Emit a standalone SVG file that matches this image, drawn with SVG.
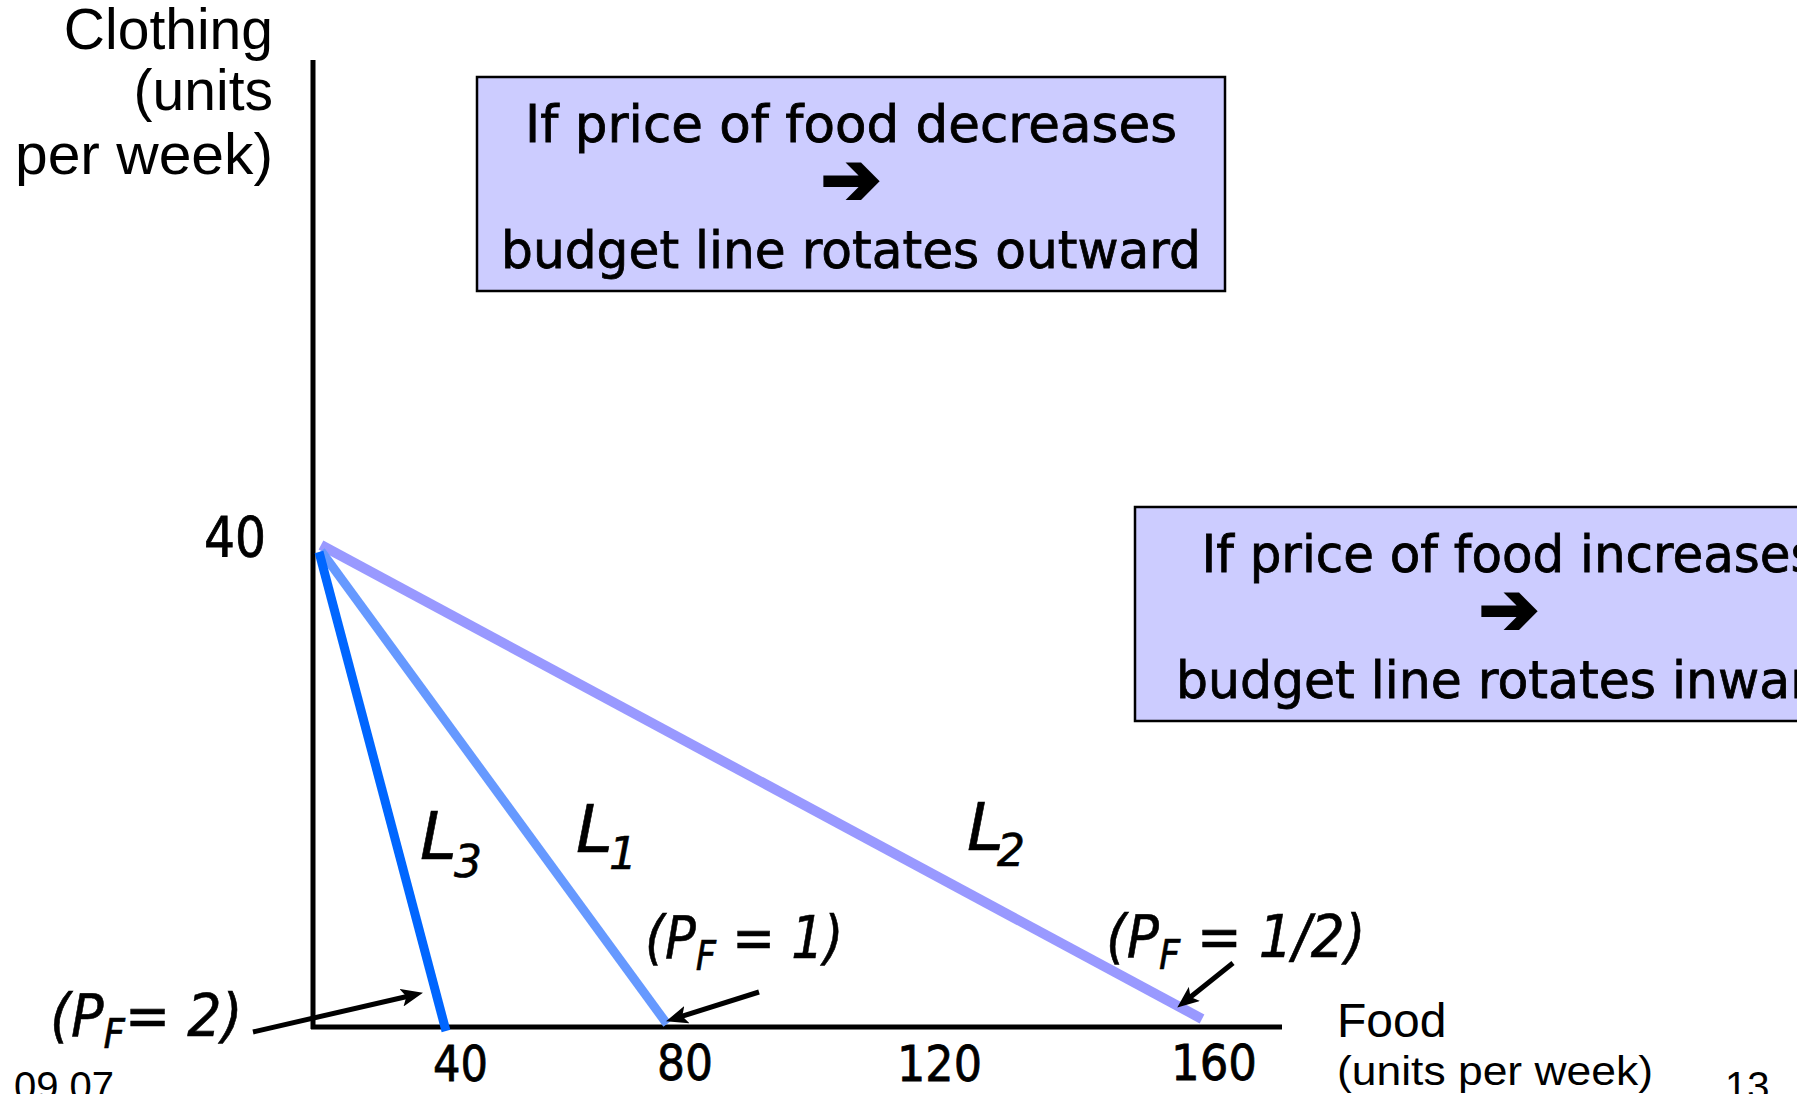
<svg xmlns="http://www.w3.org/2000/svg" width="1797" height="1094" viewBox="0 0 1797 1094">
<style>
.ax{font-family:"Liberation Sans",Arial,sans-serif;fill:#000}
.bx{font-family:"DejaVu Sans","Liberation Sans",sans-serif;fill:#000;stroke:#000;stroke-width:0.8;text-anchor:middle}
.arr{font-family:"DejaVu Sans","Liberation Sans",sans-serif;fill:#000;stroke:#000;stroke-width:3;text-anchor:middle}
.num{font-family:"DejaVu Sans","Liberation Sans",sans-serif;fill:#000;stroke:#000;stroke-width:0.8}
.it{font-family:"DejaVu Sans","Liberation Sans",sans-serif;font-style:italic;fill:#000;stroke:#000;stroke-width:0.6}
.box{fill:#CCCCFF;stroke:#000;stroke-width:2.5}
.axis{stroke:#000;stroke-width:5;fill:none}
.ptr{stroke:#000;stroke-width:5;fill:none;marker-end:url(#ah)}
</style>
<defs>
<marker id="ah" viewBox="0 0 22 18" refX="9" refY="9" markerWidth="22" markerHeight="18" markerUnits="userSpaceOnUse" orient="auto">
<path d="M0,0 L22,9 L0,18 L5,9 z" fill="#000"/>
</marker>
</defs>
<rect width="1797" height="1094" fill="#fff"/>

<g id="axes">
<line class="axis" x1="313" y1="60" x2="313" y2="1029"/>
<line class="axis" x1="311" y1="1027" x2="1282" y2="1027"/>
</g>

<g id="y-label">
<text class="ax" x="273" y="49" font-size="57" text-anchor="end">Clothing</text>
<text class="ax" x="273" y="110" font-size="57" text-anchor="end">(units</text>
<text class="ax" x="273" y="174" font-size="57" text-anchor="end" textLength="258" lengthAdjust="spacingAndGlyphs">per week)</text>
</g>

<g id="x-label">
<text class="ax" x="1337" y="1037" font-size="48">Food</text>
<text class="ax" x="1337" y="1085" font-size="40" textLength="316" lengthAdjust="spacingAndGlyphs">(units per week)</text>
</g>

<g id="ticks">
<text class="num" x="204" y="556" font-size="55" textLength="62" lengthAdjust="spacingAndGlyphs">40</text>
<text class="num" x="433" y="1081" font-size="50" textLength="55" lengthAdjust="spacingAndGlyphs">40</text>
<text class="num" x="657" y="1080" font-size="50" textLength="56" lengthAdjust="spacingAndGlyphs">80</text>
<text class="num" x="897" y="1081" font-size="50" textLength="85" lengthAdjust="spacingAndGlyphs">120</text>
<text class="num" x="1171" y="1080" font-size="50" textLength="86" lengthAdjust="spacingAndGlyphs">160</text>
</g>

<g id="box-decrease">
<rect class="box" x="477" y="77" width="748" height="214"/>
<text class="bx" x="851" y="142" font-size="52" textLength="652" lengthAdjust="spacingAndGlyphs">If price of food decreases</text>
<text class="arr" x="851" y="204" font-size="72">➔</text>
<text class="bx" x="851" y="268" font-size="52" textLength="700" lengthAdjust="spacingAndGlyphs">budget line rotates outward</text>
</g>

<g id="box-increase">
<rect class="box" x="1135" y="507" width="748" height="214"/>
<text class="bx" x="1509" y="572" font-size="52" textLength="615" lengthAdjust="spacingAndGlyphs">If price of food increases</text>
<text class="arr" x="1509" y="634" font-size="72">➔</text>
<text class="bx" x="1509" y="698" font-size="52" textLength="666" lengthAdjust="spacingAndGlyphs">budget line rotates inward</text>
</g>

<g id="budget-lines">
<line id="L2" x1="321" y1="545" x2="1202" y2="1019" stroke="#9999FF" stroke-width="10"/>
<line id="L1" x1="321" y1="551" x2="667" y2="1024" stroke="#6699FF" stroke-width="9"/>
<line id="L3" x1="319" y1="552" x2="446" y2="1031" stroke="#0066FF" stroke-width="9"/>
</g>

<g id="line-labels">
<text class="it" x="420" y="859" font-size="66">L<tspan x="454" y="877" font-size="44">3</tspan></text>
<text class="it" x="576" y="852" font-size="66">L<tspan x="609" y="869" font-size="44">1</tspan></text>
<text class="it" x="967" y="850" font-size="66">L<tspan x="997" y="866" font-size="44">2</tspan></text>
</g>

<g id="price-labels">
<text class="it" transform="translate(50,1036) scale(0.93,1)" font-size="58">(P<tspan dy="12" font-size="40">F</tspan><tspan dy="-12">= 2)</tspan></text>
<text class="it" transform="translate(645,958) scale(0.88,1)" font-size="58">(P<tspan dy="12" font-size="40">F</tspan><tspan dy="-12"> = 1)</tspan></text>
<text class="it" transform="translate(1106,957) scale(0.92,1)" font-size="58">(P<tspan dy="12" font-size="40">F</tspan><tspan dy="-12"> = 1/2)</tspan></text>
</g>

<g id="connectors">
<line class="ptr" x1="253" y1="1032" x2="410.3" y2="995.7"/>
<line class="ptr" x1="759" y1="992" x2="678.4" y2="1017.4"/>
<line class="ptr" x1="1233" y1="963" x2="1187.4" y2="999.5"/>
</g>

<g id="footer">
<text class="ax" x="14" y="1100" font-size="40">09.07</text>
<text class="ax" x="1725" y="1100" font-size="40">13</text>
</g>
</svg>
